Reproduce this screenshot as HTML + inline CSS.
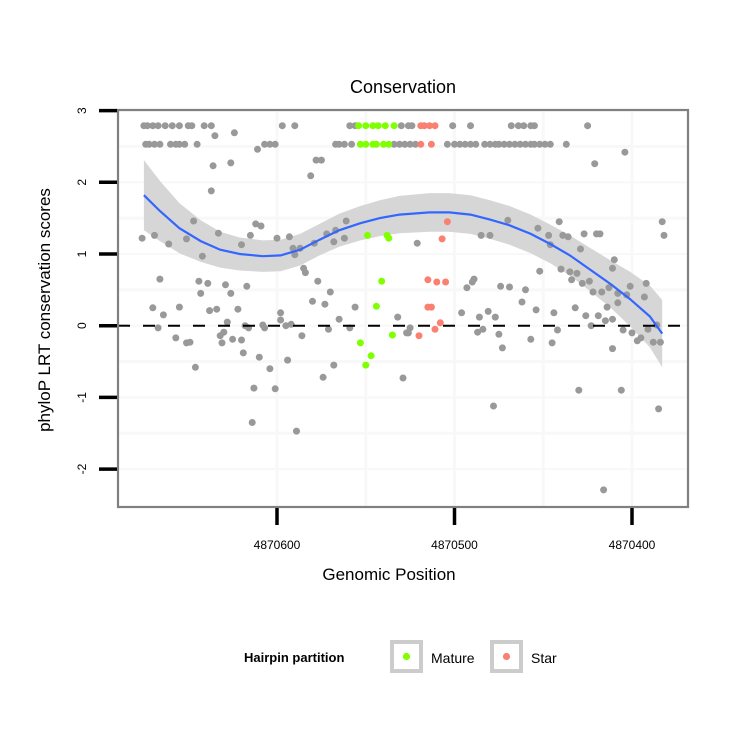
<!DOCTYPE html>
<html><head><meta charset="utf-8"><style>
body{margin:0;background:#fff}
svg{display:block;font-family:"Liberation Sans",sans-serif}
</style></head><body>
<svg id="chart" width="750" height="750" viewBox="0 0 750 750" xmlns="http://www.w3.org/2000/svg">
<text x="403" y="93" font-size="18" text-anchor="middle">Conservation</text>
<g id="grid"></g>
<g id="band"></g>
<g id="pts"></g>
<g id="axes"></g>
<text x="389" y="580" font-size="17" text-anchor="middle">Genomic Position</text>
<text transform="translate(50,310) rotate(-90)" font-size="17" text-anchor="middle">phyloP LRT conservation scores</text>
<g>
<text x="244" y="662" font-size="13" font-weight="bold">Hairpin partition</text>
<g>
<rect x="392" y="642" width="29" height="29" fill="#fff" stroke="#cccccc" stroke-width="4"/>
<circle cx="406.5" cy="656.5" r="3.6" fill="#7fff00"/>
<text x="431" y="663" font-size="14">Mature</text></g>
<g>
<rect x="492" y="642" width="29" height="29" fill="#fff" stroke="#cccccc" stroke-width="4"/>
<circle cx="506.5" cy="656.5" r="3.6" fill="#fa8072"/>
<text x="531" y="663" font-size="14">Star</text></g>
</g>
</svg>
<script>
const xTicks=[4870600,4870500,4870400];
const yTicks=[3,2,1,0,-1,-2];
const grayPos=[4870675,4870673,4870670,4870667,4870663,4870659,4870655,4870650,4870648,4870641,4870637,4870597,4870590,4870559,4870556,4870530,4870526,4870524,4870501,4870491,4870468,4870464,4870461,4870457,4870455,4870425,
4870674,4870672,4870669,4870666,4870660,4870657,4870655,4870652,4870645,4870607,4870604,4870601,4870567,4870565,4870562,4870558,4870534,4870531,4870528,4870525,4870522,4870504,4870500,4870497,4870494,4870491,4870488,4870483,4870480,4870477,4870475,4870472,4870469,4870466,4870463,4870460,4870457,4870455,4870452,4870449,4870446,4870437,
4870635,4870624,4870611,4870636,4870626,4870578,4870575,4870581,4870637,4870647,4870676,4870669,4870661,4870651,4870633,4870642,4870620,4870615,4870612,4870609,4870600,4870593,4870591,4870587,4870590,4870585,4870584,4870577,4870579,4870572,4870567,4870561,4870568,4870562,
4870666,4870644,4870639,4870643,4870629,4870626,4870617,4870570,4870580,4870573,4870556,4870670,4870655,4870664,4870638,4870634,4870622,4870667,4870628,4870598,4870598,4870618,4870616,4870608,4870607,4870595,4870592,
4870657,4870651,4870649,4870632,4870630,4870631,4870625,4870620,4870586,4870571,4870565,4870559,4870532,4870527,4870619,4870610,4870594,4870604,4870568,4870574,4870646,4870613,4870601,4870614,4870589,4870529,
4870404,4870421,4870521,4870485,4870480,4870470,4870453,4870447,4870441,4870439,4870436,4870446,4870427,4870420,4870418,4870429,4870383,4870382,4870410,4870411,4870452,4870440,4870435,4870431,4870434,4870424,4870428,4870489,4870490,4870493,4870474,4870469,4870460,4870422,4870417,4870413,4870401,4870392,4870408,4870403,4870393,4870408,4870462,
4870496,4870486,4870481,4870477,4870454,4870444,4870432,4870426,4870419,4870414,4870415,4870411,4870525,4870526,4870487,4870484,4870475,4870457,4870442,4870445,4870473,4870423,4870405,4870400,4870391,4870386,4870397,4870395,4870388,4870384,4870411,4870430,4870406,4870385,4870478,4870416];
const grayVal=[2.79,2.79,2.79,2.79,2.79,2.79,2.79,2.79,2.79,2.79,2.79,2.79,2.79,2.79,2.79,2.79,2.79,2.79,2.79,2.79,2.79,2.79,2.79,2.79,2.79,2.79,
2.53,2.53,2.53,2.53,2.53,2.53,2.53,2.53,2.53,2.53,2.53,2.53,2.53,2.53,2.53,2.53,2.53,2.53,2.53,2.53,2.53,2.53,2.53,2.53,2.53,2.53,2.53,2.53,2.53,2.53,2.53,2.53,2.53,2.53,2.53,2.53,2.53,2.53,2.53,2.53,2.53,2.53,
2.65,2.69,2.46,2.23,2.27,2.31,2.31,2.09,1.88,1.46,1.22,1.26,1.14,1.21,1.29,0.97,1.13,1.26,1.42,1.39,1.22,1.24,1.08,1.08,0.99,0.80,0.74,0.62,1.15,1.28,1.33,1.46,1.17,1.22,
0.65,0.62,0.59,0.45,0.57,0.45,0.55,0.47,0.34,0.30,0.26,0.25,0.26,0.15,0.21,0.23,0.23,-0.03,0.05,0.18,0.08,0.00,-0.03,0.01,-0.03,0.00,0.02,
-0.17,-0.24,-0.23,-0.14,-0.09,-0.24,-0.19,-0.20,-0.14,-0.05,0.09,-0.03,0.12,-0.10,-0.38,-0.44,-0.48,-0.60,-0.55,-0.72,-0.58,-0.87,-0.88,-1.35,-1.47,-0.73,
2.42,2.26,1.15,1.26,1.26,1.47,1.36,1.26,1.45,1.26,1.24,1.13,1.28,1.28,1.28,1.07,1.45,1.26,0.92,0.80,0.76,0.79,0.75,0.73,0.64,0.62,0.59,0.65,0.61,0.53,0.55,0.54,0.50,0.47,0.47,0.53,0.55,0.59,0.45,0.43,0.40,0.32,0.33,
0.18,0.12,0.20,0.12,0.22,0.18,0.25,0.14,0.14,0.26,0.07,0.09,-0.03,-0.10,-0.09,-0.05,-0.12,-0.19,-0.06,-0.24,-0.31,0.00,-0.06,-0.10,-0.05,0.01,-0.21,-0.17,-0.23,-0.23,-0.32,-0.90,-0.90,-1.16,-1.12,-2.29];
const maturePos=[4870554,4870550,4870546,4870543,4870539,4870534,4870553,4870550,4870546,4870544,4870540,4870537,4870549,4870538,4870537,4870541,4870544,4870535,4870553,4870547,4870550];
const matureVal=[2.79,2.79,2.79,2.79,2.79,2.79,2.53,2.53,2.53,2.53,2.53,2.53,1.26,1.26,1.22,0.62,0.27,-0.13,-0.24,-0.42,-0.55];
const starPos=[4870519,4870517,4870514,4870511,4870519,4870513,4870504,4870507,4870515,4870510,4870505,4870515,4870513,4870520,4870511,4870508];
const starVal=[2.79,2.79,2.79,2.79,2.53,2.53,1.45,1.21,0.64,0.61,0.61,0.26,0.26,-0.14,-0.05,0.04];
const smoothPos=[4870675,4870666,4870655,4870643,4870632,4870621,4870608,4870598,4870587,4870576,4870565,4870553,4870542,4870531,4870514,4870503,4870491,4870480,4870469,4870457,4870446,4870435,4870424,4870412,4870401,4870390,4870383];
const smoothFit=[1.82,1.60,1.36,1.18,1.06,1.00,0.97,0.98,1.06,1.20,1.33,1.43,1.50,1.55,1.58,1.58,1.55,1.48,1.40,1.28,1.14,0.98,0.79,0.58,0.37,0.13,-0.11];
const smoothSe=[0.49,0.42,0.35,0.29,0.25,0.23,0.22,0.22,0.22,0.22,0.23,0.24,0.25,0.26,0.27,0.27,0.27,0.27,0.27,0.27,0.27,0.28,0.30,0.33,0.38,0.43,0.47];

const NS='http://www.w3.org/2000/svg';
const L=118,R=688,T=110,B=507;
function sx(p){return 277+(4870600-p)*1.775;}
function sy(v){return 325.7-v*71.7;}
function mk(tag,attrs,parent){const e=document.createElementNS(NS,tag);for(const k in attrs)e.setAttribute(k,attrs[k]);parent.appendChild(e);return e;}

const grid=document.getElementById('grid');
mk('rect',{x:L,y:T,width:R-L,height:B-T,fill:'#fff'},grid);
const minorY=[2.5,1.5,0.5,-0.5,-1.5];
minorY.forEach(v=>{const l=mk('line',{x1:L,x2:R,y1:sy(v),y2:sy(v),stroke:'#f8f8f8','stroke-width':3},grid);

});
yTicks.forEach(v=>{const l=mk('line',{x1:L,x2:R,y1:sy(v),y2:sy(v),stroke:'#f8f8f8','stroke-width':2},grid);

});
const minorX=[4870550,4870450];
minorX.concat(xTicks).forEach(p=>{const l=mk('line',{x1:sx(p),x2:sx(p),y1:T,y2:B,stroke:'#f8f8f8','stroke-width':3},grid);

});

const band=document.getElementById('band');
let d='';
smoothPos.forEach((p,i)=>{d+=(i?'L':'M')+sx(p).toFixed(1)+','+sy(smoothFit[i]+smoothSe[i]).toFixed(1);});
for(let i=smoothPos.length-1;i>=0;i--){d+='L'+sx(smoothPos[i]).toFixed(1)+','+sy(smoothFit[i]-smoothSe[i]).toFixed(1);}
const bp=mk('path',{d:d+'Z',fill:'#d6d6d6'},band);



const pts=document.getElementById('pts');
function dots(P,V,col,name){P.forEach((p,i)=>{const c=mk('circle',{cx:sx(p).toFixed(1),cy:sy(V[i]).toFixed(1),r:3.5,fill:col},pts);

});}
dots(grayPos,grayVal,'#999999','point-other');
dots(maturePos,matureVal,'#7fff00','point-mature');
dots(starPos,starVal,'#fa8072','point-star');

let ld='';
smoothPos.forEach((p,i)=>{ld+=(i?'L':'M')+sx(p).toFixed(1)+','+sy(smoothFit[i]).toFixed(1);});
const sl=mk('path',{d:ld,fill:'none',stroke:'#3366ff','stroke-width':2.2},pts);


const zl=mk('line',{x1:L,x2:R,y1:sy(0),y2:sy(0),stroke:'#000','stroke-width':2,'stroke-dasharray':'12,13'},pts);



const axes=document.getElementById('axes');
const fr=mk('rect',{x:L,y:T,width:R-L,height:B-T,fill:'none',stroke:'#808080','stroke-width':2.2},axes);


yTicks.forEach(v=>{const t=mk('line',{x1:99,x2:L-1,y1:sy(v),y2:sy(v),stroke:'#000','stroke-width':3.5},axes);


const tx=mk('text',{transform:'translate(86,'+sy(v)+') rotate(-90)','font-size':12,'text-anchor':'middle'},axes);
tx.textContent=String(v);

});
xTicks.forEach(p=>{const t=mk('line',{x1:sx(p),x2:sx(p),y1:B+1,y2:525,stroke:'#000','stroke-width':3.5},axes);


const tx=mk('text',{x:sx(p),y:549,'font-size':12,'text-anchor':'middle'},axes);
tx.textContent=String(p);

});
</script>
</body></html>
